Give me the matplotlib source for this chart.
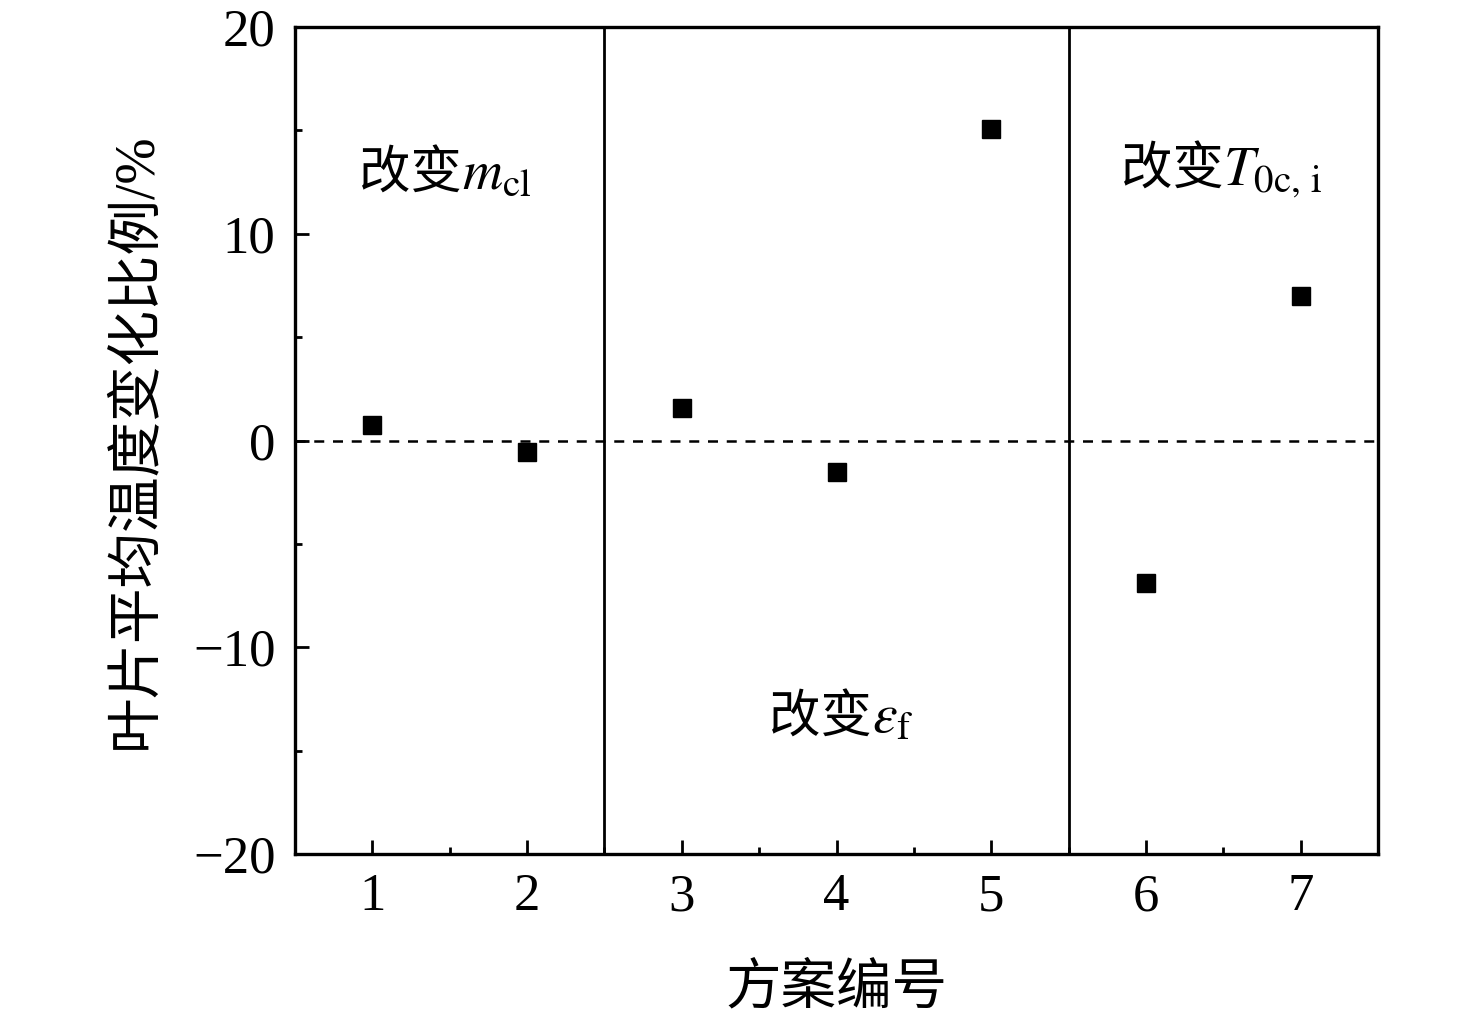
import matplotlib
matplotlib.use("Agg")
import matplotlib.pyplot as plt
from matplotlib.ticker import MultipleLocator
from matplotlib.offsetbox import TextArea, HPacker, AnnotationBbox

plt.rcParams['font.family'] = ['Liberation Serif', 'Noto Sans CJK SC']
plt.rcParams['mathtext.fontset'] = 'stix'
plt.rcParams['axes.unicode_minus'] = True

scheme = [1, 2, 3, 4, 5, 6, 7]
change_pct = [0.77, -0.58, 1.55, -1.5, 15.05, -6.87, 6.97]
group_bounds = [2.5, 5.5]
group_prefix = ['改变', '改变', '改变']
group_symbols = ['$m_{\\mathrm{cl}}$', '$\\varepsilon_{\\mathrm{f}}$', '$T_{\\mathrm{0c,\\,i}}$']
group_label_pos = [(1.47, 12.9), (4.03, -13.4), (6.49, 13.0)]

fig = plt.figure(figsize=(14.76, 10.13), dpi=100)
ax = fig.add_axes([0.1999, 0.157, 0.7337, 0.8163])

ax.plot(scheme, change_pct, linestyle='none', marker='s', markersize=13, color='black', zorder=3)
ax.axhline(0, color='black', linestyle=(0, (4, 3.5)), linewidth=1.8)
for b in group_bounds:
    ax.axvline(b, color='black', linewidth=2.0)

for pre, sym, (x, y) in zip(group_prefix, group_symbols, group_label_pos):
    t1 = TextArea(pre, textprops=dict(fontsize=37, family=['Noto Sans CJK SC']))
    t2 = TextArea(sym, textprops=dict(fontsize=40))
    box = HPacker(children=[t1, t2], align='baseline', pad=0, sep=0)
    ab = AnnotationBbox(box, (x, y), xycoords='data', frameon=False, box_alignment=(0.5, 0.5))
    ax.add_artist(ab)

ax.set_xlim(0.5, 7.5)
ax.set_ylim(-20, 20)
ax.xaxis.set_major_locator(MultipleLocator(1))
ax.xaxis.set_minor_locator(MultipleLocator(0.5))
ax.yaxis.set_major_locator(MultipleLocator(10))
ax.yaxis.set_minor_locator(MultipleLocator(5))
ax.tick_params(which='both', direction='in', width=2, labelsize=38, pad=14)
ax.tick_params(which='major', length=10)
ax.tick_params(which='minor', length=5)
ax.tick_params(axis='x', top=False)
for s in ax.spines.values():
    s.set_linewidth(2.4)

ax.set_xlabel('方案编号', fontsize=40, labelpad=30)
ax.set_ylabel('叶片平均温度变化比例/%', fontsize=40, labelpad=22)

fig.savefig('out.png', dpi=100)
